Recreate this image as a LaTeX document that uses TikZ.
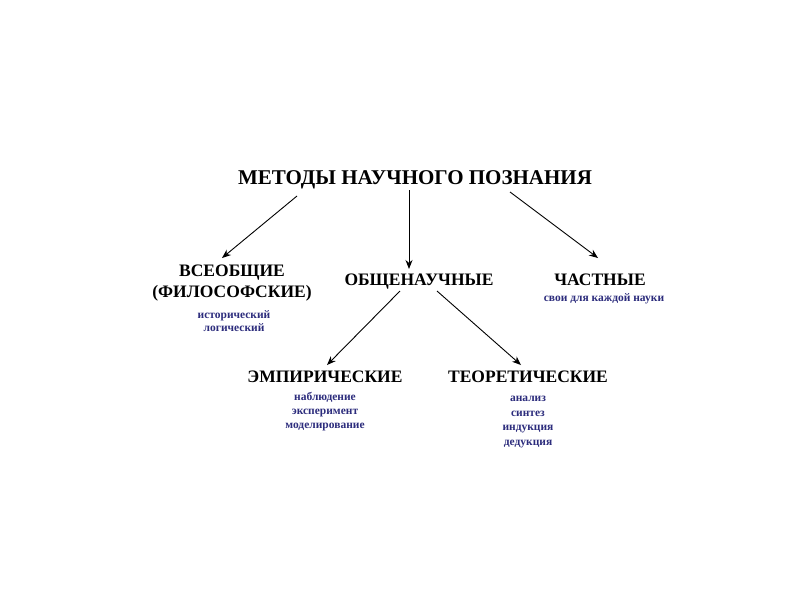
\documentclass[tikz,border=0pt]{standalone}
\usepackage{fontspec}
\setmainfont{Liberation Serif}
\usetikzlibrary{arrows.meta}
\definecolor{navy}{RGB}{45,45,125}
\begin{document}
\begin{tikzpicture}[x=1pt,y=-1pt,
  big/.style={font=\bfseries\fontsize{17.5}{21}\selectfont, inner sep=0pt, align=center},
  ttl/.style={font=\bfseries\fontsize{21}{22}\selectfont, inner sep=0pt},
  small/.style={font=\bfseries\fontsize{11.5}{14}\selectfont, text=navy, inner sep=0pt, align=center},
  conn/.style={-{Stealth[length=9pt,width=7pt]}, line width=0.9pt}]
\useasboundingbox[fill=white] (0,0) rectangle (800,600);
\node[ttl] (title) at (415,180) {МЕТОДЫ НАУЧНОГО ПОЗНАНИЯ};
\node[big] (vse) at (232,283) {ВСЕОБЩИЕ\\(ФИЛОСОФСКИЕ)};
\node[small, font=\bfseries\fontsize{11.5}{13.5}\selectfont] (vses) at (234,321) {исторический\\логический};
\node[big] (obsch) at (419,282) {ОБЩЕНАУЧНЫЕ};
\node[big] (chast) at (600,280) {ЧАСТНЫЕ};
\node[small] (chasts) at (604,299) {свои для каждой науки};
\node[big] (emp) at (325,377) {ЭМПИРИЧЕСКИЕ};
\node[small] (emps) at (325,411.5) {наблюдение\\эксперимент\\моделирование};
\node[big] (teor) at (528,377) {ТЕОРЕТИЧЕСКИЕ};
\node[small, font=\bfseries\fontsize{11.5}{14.5}\selectfont] (teors) at (528,422) {анализ\\синтез\\индукция\\дедукция};
\coordinate (t1) at (297,196);
\coordinate (t2) at (409,190);
\coordinate (t3) at (510,192);
\coordinate (a1) at (222,258);
\coordinate (a2) at (409,269);
\coordinate (a3) at (598,258);
\coordinate (o1) at (400,291);
\coordinate (o2) at (437,291);
\coordinate (e1) at (327,365);
\coordinate (e2) at (521,365);
\draw[conn] (t1) -- (a1);
\draw[conn] (t2) -- (a2);
\draw[conn] (t3) -- (a3);
\draw[conn] (o1) -- (e1);
\draw[conn] (o2) -- (e2);
\end{tikzpicture}
\end{document}
